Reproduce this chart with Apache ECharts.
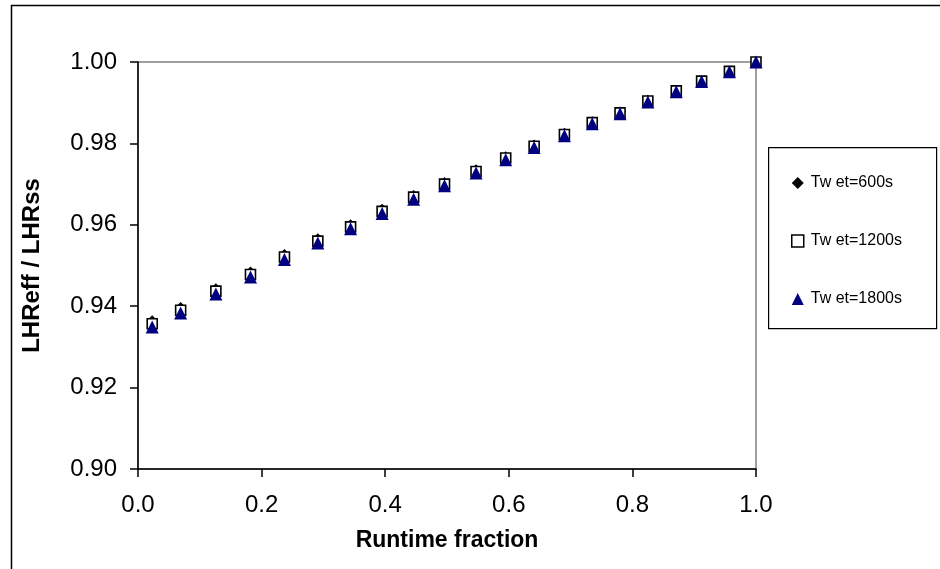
<!DOCTYPE html>
<html>
<head>
<meta charset="utf-8">
<script src="https://cdn.jsdelivr.net/npm/echarts@6/dist/echarts.min.js"></script>
<style>html,body{margin:0;padding:0;background:#fff;}#c{width:940px;height:569px;}</style>
</head>
<body>
<div id="c"></div>
<script>
var runtimeFraction = [0.023, 0.069, 0.126, 0.182, 0.237, 0.291, 0.344, 0.395, 0.446, 0.496, 0.547, 0.595, 0.641, 0.690, 0.735, 0.780, 0.825, 0.871, 0.912, 0.957, 1.000];
var twet600  = [0.9364, 0.9397, 0.9443, 0.9484, 0.9527, 0.9566, 0.9600, 0.9638, 0.9672, 0.9704, 0.9735, 0.9767, 0.9796, 0.9825, 0.9853, 0.9877, 0.9906, 0.9930, 0.9954, 0.9977, 1.0000];
var twet1200 = [0.9357, 0.9390, 0.9437, 0.9478, 0.9521, 0.9560, 0.9595, 0.9633, 0.9668, 0.9700, 0.9731, 0.9764, 0.9793, 0.9822, 0.9851, 0.9875, 0.9904, 0.9929, 0.9953, 0.9977, 1.0000];
var twet1800 = [0.9349, 0.9383, 0.9430, 0.9472, 0.9515, 0.9555, 0.9590, 0.9628, 0.9663, 0.9696, 0.9727, 0.9760, 0.9790, 0.9819, 0.9848, 0.9873, 0.9902, 0.9927, 0.9952, 0.9976, 1.0000];
var seriesNames = ['Tw et=600s', 'Tw et=1200s', 'Tw et=1800s'];
var xTitle = 'Runtime fraction';
var yTitle = 'LHReff / LHRss';

function pairs(ys){ return runtimeFraction.map(function(x,i){ return [x, ys[i]]; }); }
var FONT = '"Liberation Sans", Arial, sans-serif';
var chart = echarts.init(document.getElementById('c'), null, {renderer:'canvas'});
chart.setOption({
  backgroundColor: '#ffffff',
  animation: false,
  textStyle: {fontFamily: FONT},
  grid: {left: 138, right: 184, top: 62, bottom: 100, show: true, borderColor: '#808080', borderWidth: 1.5, backgroundColor: 'transparent'},
  xAxis: {
    type: 'value', min: 0, max: 1, interval: 0.2,
    name: xTitle, nameLocation: 'middle', nameGap: 60,
    nameTextStyle: {fontFamily: FONT, fontSize: 23, fontWeight: 'bold', color: '#000'},
    axisLine: {show: true, onZero: false, lineStyle: {color: '#000', width: 1.5}},
    axisTick: {show: true, inside: false, length: 8, lineStyle: {color: '#000', width: 1.5}},
    axisLabel: {fontFamily: FONT, fontSize: 24, color: '#000', margin: 24, formatter: function(v){ return v.toFixed(1); }},
    splitLine: {show: false}
  },
  yAxis: {
    type: 'value', min: 0.9, max: 1.0, interval: 0.02,
    name: yTitle, nameLocation: 'middle', nameGap: 94, nameRotate: 90,
    nameTextStyle: {fontFamily: FONT, fontSize: 24, fontWeight: 'bold', color: '#000'},
    axisLine: {show: true, onZero: false, lineStyle: {color: '#000', width: 1.5}},
    axisTick: {show: true, inside: false, length: 8, lineStyle: {color: '#000', width: 1.5}},
    axisLabel: {fontFamily: FONT, fontSize: 24, color: '#000', margin: 21, formatter: function(v){ return v.toFixed(2); }},
    splitLine: {show: false}
  },
  legend: {
    orient: 'vertical', left: 786, top: 170, itemGap: 42,
    itemWidth: 12, itemHeight: 12,
    textStyle: {fontFamily: FONT, fontSize: 16, color: '#000', padding: [0,0,0,2]},
    data: [
      {name: seriesNames[0], icon: 'diamond', itemStyle: {color: '#000'}},
      {name: seriesNames[1], icon: 'rect', itemStyle: {color: '#fff', borderColor: '#000', borderWidth: 1.5}},
      {name: seriesNames[2], icon: 'triangle', itemStyle: {color: '#000080'}}
    ]
  },
  graphic: [
    {type: 'rect', left: 9, top: 3, shape: {x: 0, y: 0, width: 960, height: 600}, style: {fill: 'none', stroke: '#000', lineWidth: 1.5}, silent: true, z: 100},
    {type: 'rect', left: 768, top: 147, shape: {x: 0, y: 0, width: 168, height: 181}, style: {fill: '#fff', stroke: '#000', lineWidth: 1.2}, silent: true, z: -1}
  ],
  series: [
    {name: seriesNames[0], type: 'scatter', data: pairs(twet600), symbol: 'diamond', symbolSize: [11, 11], itemStyle: {color: '#000', opacity: 1}, z: 2},
    {name: seriesNames[1], type: 'scatter', data: pairs(twet1200), symbol: 'rect', symbolSize: [10, 10], itemStyle: {color: '#fff', borderColor: '#000', borderWidth: 1.6, opacity: 1}, z: 3},
    {name: seriesNames[2], type: 'scatter', data: pairs(twet1800), symbol: 'triangle', symbolSize: [13, 13], itemStyle: {color: '#000080', opacity: 1}, z: 4}
  ]
});
</script>
</body>
</html>
